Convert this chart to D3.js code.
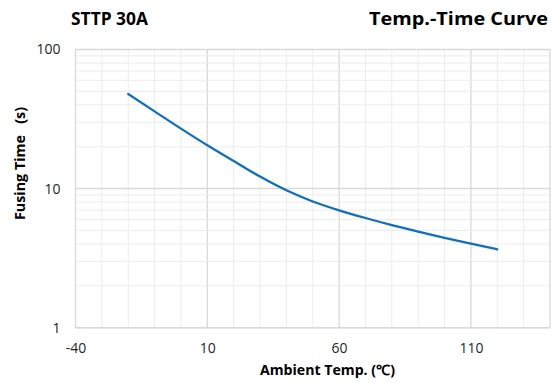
<!DOCTYPE html>
<html><head><meta charset="utf-8">
<script src="https://cdn.jsdelivr.net/npm/d3@7"></script>
<style>body{margin:0;background:#fff;} svg{display:block;font-family:"Open Sans",sans-serif;}</style>
</head><body>
<svg id="c" width="558" height="383"></svg>
<script>
const temps = [-20,-10,0,10,20,30,40,50,60,70,80,90,100,110,120];
const times = [47.9,35.9,27.0,20.5,15.8,12.2,9.72,8.08,6.98,6.15,5.47,4.91,4.43,4.02,3.66];
const xTicks = [-40,10,60,110];
const yTicks = [1,10,100];
const title = "STTP 30A";
const subtitle = "Temp.-Time Curve";
const xLabel = "Ambient Temp. (℃)";
const yLabel = "Fusing Time   (s)";

const svg = d3.select("#c");
const L=75.5, R=550, T=49.5, B=327.7;
const x = d3.scaleLinear().domain([-40,140]).range([L,R]);
const y = d3.scaleLog().domain([1,100]).range([B,T]);

const g = svg.append("g");
const xMinor = d3.range(-40,141,10);
g.selectAll(".vx").data(xMinor).enter().append("line")
 .attr("x1",d=>x(d)).attr("x2",d=>x(d)).attr("y1",T).attr("y2",B)
 .attr("stroke",d=>xTicks.includes(d)?"#d9d9d9":"#ececec").attr("stroke-width",d=>xTicks.includes(d)?1.3:1);
const yMinor = [];
[1,10].forEach(b=>{for(let k=2;k<=9;k++) yMinor.push(b*k);});
g.selectAll(".hy").data(yMinor).enter().append("line")
 .attr("x1",L).attr("x2",R).attr("y1",d=>y(d)).attr("y2",d=>y(d))
 .attr("stroke","#ececec").attr("stroke-width",1);
g.selectAll(".hY").data(yTicks).enter().append("line")
 .attr("x1",L).attr("x2",R).attr("y1",d=>y(d)).attr("y2",d=>y(d))
 .attr("stroke","#d9d9d9").attr("stroke-width",1.5);
g.append("rect").attr("x",L).attr("y",T).attr("width",R-L).attr("height",B-T)
 .attr("fill","none").attr("stroke","#d9d9d9").attr("stroke-width",1);

const xAxis = d3.axisBottom(x).tickValues(xTicks).tickSize(0).tickPadding(0).tickFormat(d=>String(d));
const xa = svg.append("g").attr("transform",`translate(0,${B})`).call(xAxis);
xa.select(".domain").remove();
xa.selectAll("text").attr("dy",null).attr("y",25.5).attr("font-size",14).attr("fill","#262626").attr("font-family","Open Sans, sans-serif");
const yAxis = d3.axisLeft(y).tickValues(yTicks).tickSize(0).tickPadding(15).tickFormat(d=>String(d));
const ya = svg.append("g").attr("transform",`translate(${L},0)`).call(yAxis);
ya.select(".domain").remove();
ya.selectAll("text").attr("font-size",14).attr("fill","#262626").attr("font-family","Open Sans, sans-serif");

const line = d3.line().x((d,i)=>x(temps[i])).y(d=>y(d)).curve(d3.curveMonotoneX);
svg.append("path").datum(times).attr("d",line).attr("fill","none")
 .attr("stroke","#0f6fbd").attr("stroke-width",2.25).attr("stroke-linecap","round");

svg.append("text").attr("x",71).attr("y",25).attr("font-weight","bold").attr("font-size",17).attr("fill","#000")
 .attr("textLength",77).attr("lengthAdjust","spacingAndGlyphs").text(title);
svg.append("text").attr("x",369).attr("y",25).attr("font-weight","bold").attr("font-size",17.5).attr("fill","#000")
 .attr("textLength",179).attr("lengthAdjust","spacingAndGlyphs").text(subtitle);
svg.append("text").attr("x",260).attr("y",375).attr("font-weight","bold").attr("font-size",14).attr("fill","#000")
 .attr("textLength",135).attr("lengthAdjust","spacingAndGlyphs").text(xLabel);
svg.append("text").attr("transform","translate(25,220) rotate(-90)").attr("font-weight","bold").attr("font-size",14).attr("fill","#000")
 .attr("xml:space","preserve").style("white-space","pre").attr("textLength",113).attr("lengthAdjust","spacingAndGlyphs").text(yLabel);
</script>
</body></html>
